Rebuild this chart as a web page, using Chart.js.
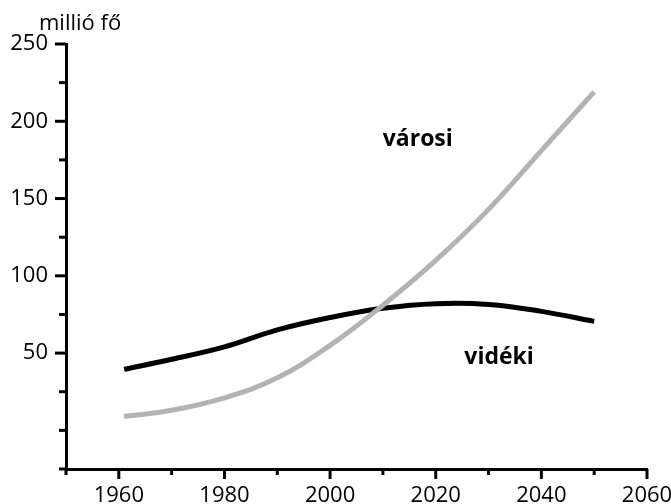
<!DOCTYPE html>
<html>
<head>
<meta charset="utf-8">
<script src="https://cdn.jsdelivr.net/npm/chart.js@4"></script>
<style>
  html, body { margin: 0; padding: 0; background: #fff; }
  #wrap { width: 671px; height: 504px; }
</style>
</head>
<body>
<div id="wrap"><canvas id="myChart"></canvas></div>
<script>
const years = [1961, 1970, 1980, 1990, 2000, 2010, 2020, 2030, 2040, 2050];
const urban = [9, 13, 21, 34, 55, 81, 110, 143, 181, 219];
const rural = [39.5, 46, 54, 65, 73, 79, 82, 81.5, 77, 70.5];
const yTickLabels = [50, 100, 150, 200, 250];
const xTickLabels = [1960, 1980, 2000, 2020, 2040, 2060];

const FONT = "'Open Sans', sans-serif";

const toPoints = (vals) => years.map((yr, i) => ({ x: yr, y: vals[i] }));

// short/long tick marks, series labels and unit text
const decor = {
  id: "decor",
  afterDraw(chart) {
    const c = chart.ctx;
    const xs = chart.scales.x;
    const ys = chart.scales.y;
    const area = chart.chartArea;
    c.save();
    c.strokeStyle = "#000";
    c.lineWidth = 3;
    ys.ticks.forEach((t) => {
      const py = ys.getPixelForValue(t.value);
      const len = yTickLabels.includes(t.value) ? 11 : 7;
      c.beginPath();
      c.moveTo(area.left, py);
      c.lineTo(area.left - len, py);
      c.stroke();
    });
    xs.ticks.forEach((t) => {
      const px = xs.getPixelForValue(t.value);
      const len = xTickLabels.includes(t.value) ? 10 : 6;
      c.beginPath();
      c.moveTo(px, area.bottom);
      c.lineTo(px, area.bottom + len);
      c.stroke();
    });

    c.fillStyle = "#000";
    c.textAlign = "center";
    c.textBaseline = "middle";
    c.font = "bold 23px " + FONT;
    c.fillText("városi", xs.getPixelForValue(2016.6), ys.getPixelForValue(188));
    c.fillText("vidéki", xs.getPixelForValue(2032), ys.getPixelForValue(47));

    c.font = "22px " + FONT;
    c.textAlign = "left";
    c.textBaseline = "alphabetic";
    c.fillText("millió fő", area.left - 27, area.top - 14);
    c.restore();
  },
};

const ctx = document.getElementById("myChart");
new Chart(ctx, {
  type: "line",
  data: {
    datasets: [
      {
        label: "városi",
        data: toPoints(urban),
        borderColor: "#b3b3b3",
        borderWidth: 5,
        pointRadius: 0,
        tension: 0.4,
      },
      {
        label: "vidéki",
        data: toPoints(rural),
        borderColor: "#000000",
        borderWidth: 5,
        pointRadius: 0,
        tension: 0.4,
      },
    ],
  },
  options: {
    responsive: true,
    maintainAspectRatio: false,
    animation: false,
    layout: { padding: { top: 44, right: 24, left: 0, bottom: 0 } },
    plugins: {
      legend: { display: false },
      tooltip: { enabled: false },
    },
    scales: {
      x: {
        type: "linear",
        min: 1950,
        max: 2060,
        grid: { display: false },
        border: { display: true, color: "#000", width: 3 },
        ticks: {
          stepSize: 10,
          padding: 6,
          color: "#000",
          font: { family: FONT, size: 22 },
          maxRotation: 0,
          autoSkip: false,
          callback: (v) => (xTickLabels.includes(v) ? String(v) : ""),
        },
        afterFit(scale) {
          scale.height = 35;
          scale.paddingLeft = 0;
          scale.paddingRight = 0;
        },
      },
      y: {
        min: -25,
        max: 250,
        grid: { display: false },
        border: { display: true, color: "#000", width: 3 },
        ticks: {
          stepSize: 25,
          padding: 10,
          color: "#000",
          font: { family: FONT, size: 22 },
          autoSkip: false,
          callback: (v) => (yTickLabels.includes(v) ? String(v) : ""),
        },
        afterFit(scale) {
          scale.width = 66;
          scale.paddingTop = 0;
          scale.paddingBottom = 0;
        },
      },
    },
  },
  plugins: [decor],
});
</script>
</body>
</html>
